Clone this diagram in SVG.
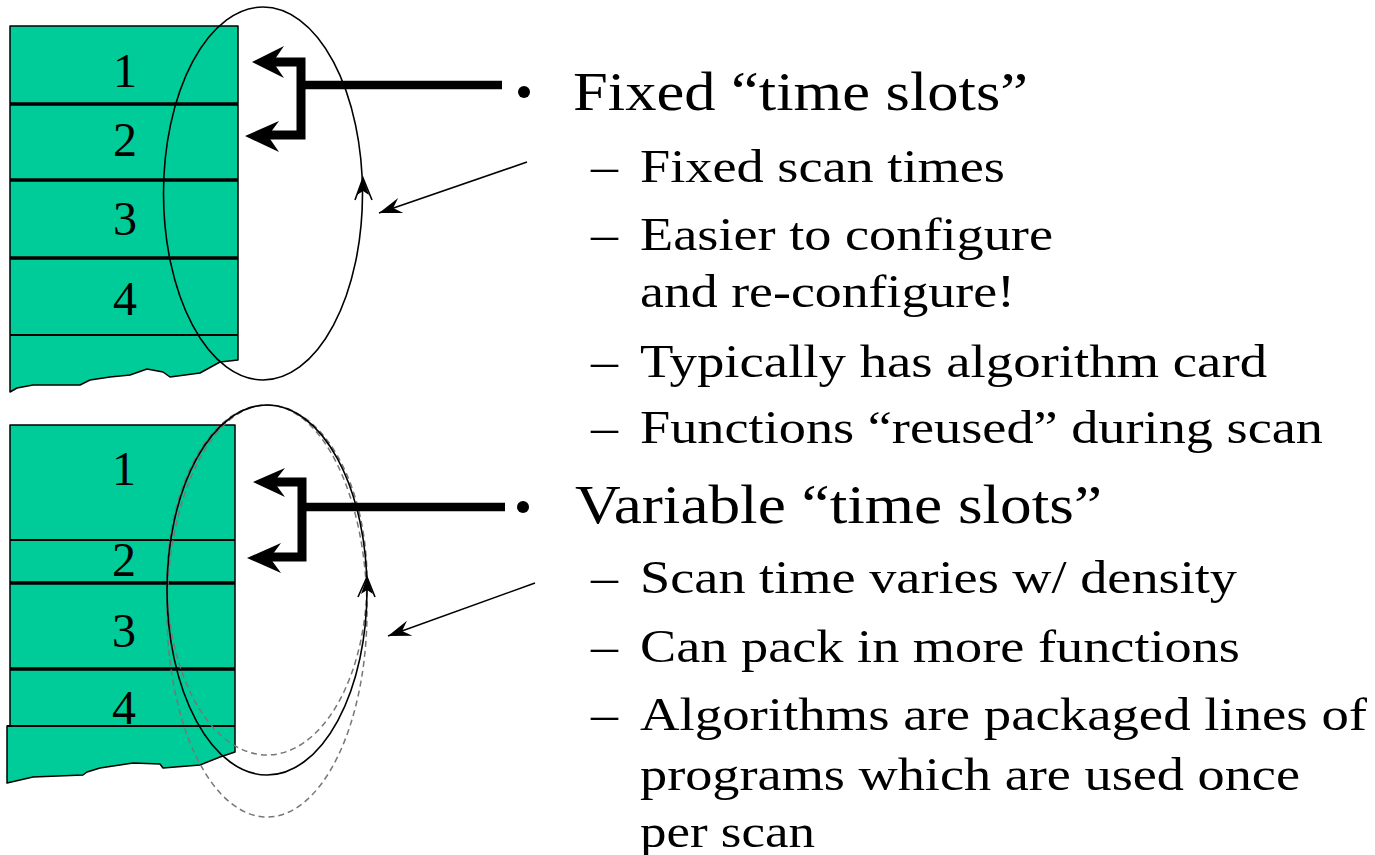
<svg xmlns="http://www.w3.org/2000/svg" width="1375" height="855" viewBox="0 0 1375 855">
  <defs>
    <style>
      text { font-family: Liberation Serif, serif; fill: #000; }
      .slab { fill: #00CC99; stroke: #000; stroke-width: 1.5; stroke-linejoin: round; }
      .div-thick { stroke: #000; stroke-width: 3.5; }
      .div-thin { stroke: #000; stroke-width: 1.8; }
      .num { font-size: 48px; text-anchor: middle; }
      .loop { fill: none; stroke: #000; stroke-width: 1.6; }
      .ghost { fill: none; stroke: #777; stroke-width: 1.5; stroke-dasharray: 6 4; }
      .bracket { fill: none; stroke: #000; stroke-width: 9; stroke-linejoin: miter; }
      .lead { fill: none; stroke: #000; stroke-width: 8.5; }
      .head { fill: #000; }
      .pointer { fill: none; stroke: #000; stroke-width: 1.6; }
      .h1 { font-size: 54px; }
      .h2 { font-size: 46px; }
    </style>
    <marker id="ptr" markerUnits="userSpaceOnUse" markerWidth="30" markerHeight="20" viewBox="0 0 30 20" refX="29" refY="10" orient="auto">
      <path d="M29,10 L6,2 L14,10 L6,18 Z" fill="#000"/>
    </marker>
  </defs>

  <!-- upper scan table: fixed slots -->
  <g id="fixed-table">
    <path class="slab" d="M10,26 H238 V360 L220,362 L200,373 L170,377 L163,372 L147,369 L130,375 L110,377 L90,380 L80,385 L33,385 L17,388 L10,392 Z"/>
    <line class="div-thick" x1="10" y1="104" x2="238" y2="104"/>
    <line class="div-thick" x1="10" y1="180" x2="238" y2="180"/>
    <line class="div-thick" x1="10" y1="258" x2="238" y2="258"/>
    <line class="div-thin" x1="10" y1="335" x2="238" y2="335"/>
    <text class="num" x="125" y="87">1</text>
    <text class="num" x="125" y="156">2</text>
    <text class="num" x="125" y="235">3</text>
    <text class="num" x="125" y="315">4</text>
  </g>

  <!-- lower scan table: variable slots -->
  <g id="variable-table">
    <path class="slab" d="M10,425 H235 V752 L220,757 L200,765 L163,768 L160,764 L133,763 L100,768 L87,772 L83,775 L33,777 L20,780 L7,783 V726 H10 Z"/>
    <line class="div-thin" x1="10" y1="540" x2="235" y2="540"/>
    <line class="div-thick" x1="10" y1="583" x2="235" y2="583"/>
    <line class="div-thick" x1="10" y1="669" x2="235" y2="669"/>
    <line class="div-thin" x1="7" y1="726" x2="235" y2="726"/>
    <text class="num" x="124" y="485">1</text>
    <text class="num" x="124" y="576">2</text>
    <text class="num" x="124" y="647">3</text>
    <text class="num" x="124" y="724">4</text>
  </g>

  <!-- scan loops -->
  <g id="fixed-loop">
    <ellipse class="loop" cx="263" cy="193.5" rx="99.5" ry="186.5"/>
    <path class="loop" d="M355,200 L363,178 L372,200"/>
    <path class="head" d="M363,178 L357,195 L363,191 L369,195 Z"/>
  </g>
  <g id="variable-loop">
    <ellipse class="ghost" cx="267" cy="611" rx="100" ry="206"/>
    <ellipse class="ghost" cx="267" cy="580" rx="100" ry="175"/>
    <ellipse class="loop" cx="267" cy="590" rx="100" ry="185"/>
    <path class="loop" d="M358,597 L367,577 L375,597"/>
    <path class="head" d="M367,577 L361,594 L367,590 L373,594 Z"/>
  </g>

  <!-- connectors -->
  <g id="connectors">
    <!-- fixed slots bracket -->
    <path class="bracket" d="M272,62 H301 V135 H264"/>
    <line class="lead" x1="301" y1="85" x2="502" y2="85"/>
    <path class="head" d="M252,62 L284,46 L273,62 L284,78 Z"/>
    <path class="head" d="M245,136 L279,121 L268,136 L279,152 Z"/>
    <!-- variable slots bracket -->
    <path class="bracket" d="M274,482 H302 V557 H266"/>
    <line class="lead" x1="302" y1="507" x2="505" y2="507"/>
    <path class="head" d="M253,482 L285,468 L274,482 L285,497 Z"/>
    <path class="head" d="M247,558 L281,543 L270,558 L281,573 Z"/>
    <!-- pointers to loops -->
    <line class="pointer" x1="527" y1="162" x2="379" y2="213" marker-end="url(#ptr)"/>
    <line class="pointer" x1="535" y1="583" x2="388" y2="636" marker-end="url(#ptr)"/>
  </g>

  <!-- bullet list -->
  <g id="fixed-notes">
    <circle cx="524" cy="92" r="6" fill="#000"/>
    <text class="h1" x="573" y="110" textLength="455" lengthAdjust="spacingAndGlyphs">Fixed “time slots”</text>
    <text class="h2" x="591" y="182" textLength="27" lengthAdjust="spacingAndGlyphs">–</text>
    <text class="h2" x="640" y="182" textLength="365" lengthAdjust="spacingAndGlyphs">Fixed scan times</text>
    <text class="h2" x="591" y="250" textLength="27" lengthAdjust="spacingAndGlyphs">–</text>
    <text class="h2" x="640" y="250" textLength="413" lengthAdjust="spacingAndGlyphs">Easier to configure</text>
    <text class="h2" x="640" y="307" textLength="375" lengthAdjust="spacingAndGlyphs">and re-configure!</text>
    <text class="h2" x="591" y="377" textLength="27" lengthAdjust="spacingAndGlyphs">–</text>
    <text class="h2" x="640" y="377" textLength="627" lengthAdjust="spacingAndGlyphs">Typically has algorithm card</text>
    <text class="h2" x="591" y="443" textLength="27" lengthAdjust="spacingAndGlyphs">–</text>
    <text class="h2" x="640" y="443" textLength="683" lengthAdjust="spacingAndGlyphs">Functions “reused” during scan</text>
  </g>
  <g id="variable-notes">
    <circle cx="523" cy="507" r="6" fill="#000"/>
    <text class="h1" x="575" y="523" textLength="527" lengthAdjust="spacingAndGlyphs">Variable “time slots”</text>
    <text class="h2" x="591" y="593" textLength="27" lengthAdjust="spacingAndGlyphs">–</text>
    <text class="h2" x="640" y="593" textLength="597" lengthAdjust="spacingAndGlyphs">Scan time varies w/ density</text>
    <text class="h2" x="591" y="662" textLength="27" lengthAdjust="spacingAndGlyphs">–</text>
    <text class="h2" x="640" y="662" textLength="600" lengthAdjust="spacingAndGlyphs">Can pack in more functions</text>
    <text class="h2" x="591" y="730" textLength="27" lengthAdjust="spacingAndGlyphs">–</text>
    <text class="h2" x="640" y="730" textLength="727" lengthAdjust="spacingAndGlyphs">Algorithms are packaged lines of</text>
    <text class="h2" x="640" y="790" textLength="660" lengthAdjust="spacingAndGlyphs">programs which are used once</text>
    <text class="h2" x="640" y="847" textLength="175" lengthAdjust="spacingAndGlyphs">per scan</text>
  </g>
</svg>
